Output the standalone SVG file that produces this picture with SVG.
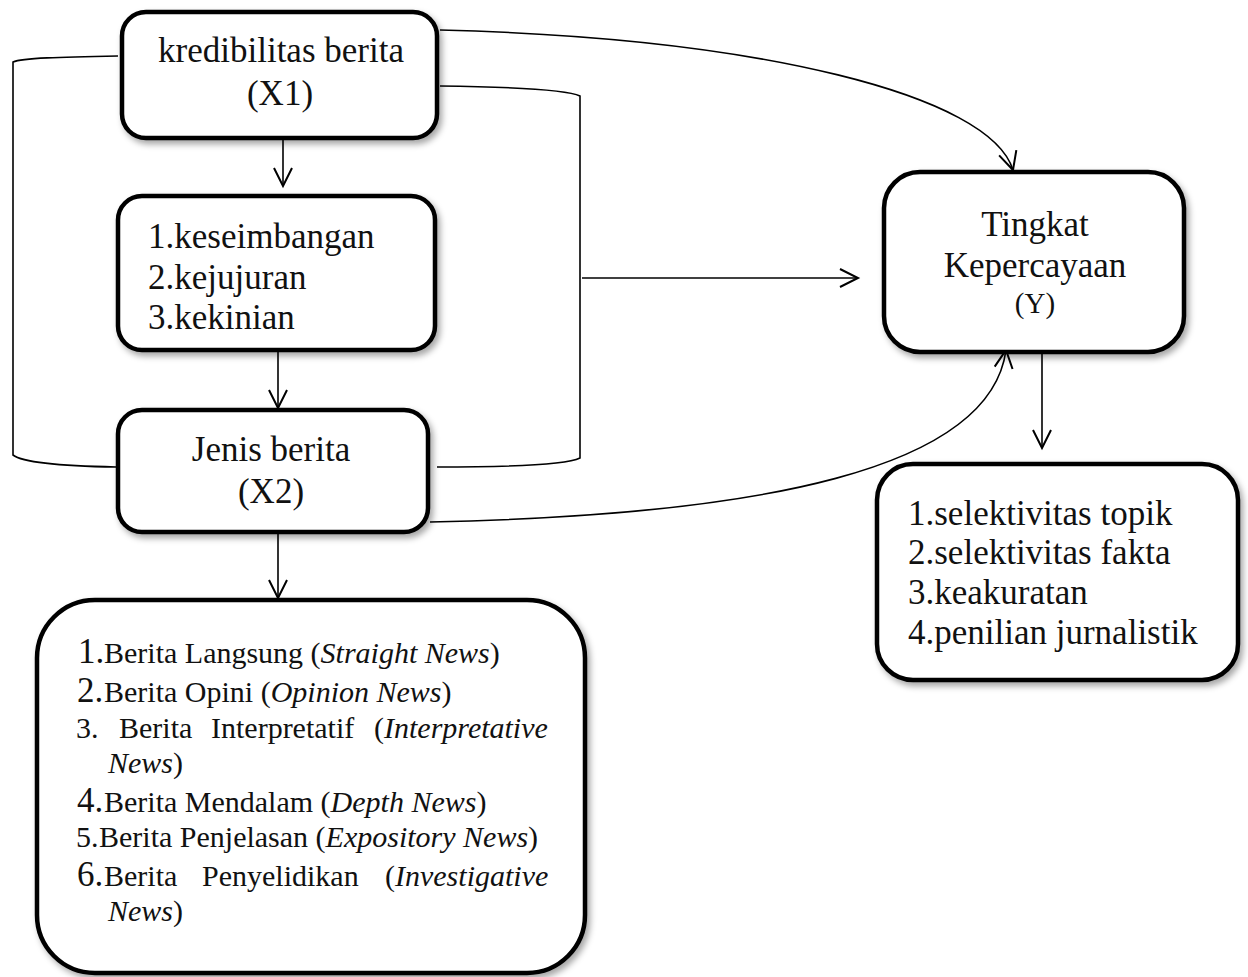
<svg xmlns="http://www.w3.org/2000/svg" width="1248" height="977" viewBox="0 0 1248 977">
<defs>
<filter id="sh" x="-10%" y="-10%" width="125%" height="125%">
<feDropShadow dx="3" dy="4" stdDeviation="3" flood-color="#000" flood-opacity="0.35"/>
</filter>
<marker id="arr" markerUnits="userSpaceOnUse" markerWidth="24" markerHeight="24" refX="19" refY="10" orient="auto" viewBox="0 0 24 20">
<path d="M1,1 L19,10 L1,19" fill="none" stroke="#000" stroke-width="2"/>
</marker>
<style>
.box{fill:#fff;stroke:#000;stroke-width:4.5;filter:url(#sh)}
.t{font-family:"Liberation Serif","Times New Roman",serif;font-size:35px;fill:#111}
.s{font-family:"Liberation Serif","Times New Roman",serif;font-size:30px;fill:#111}
.c{text-anchor:middle}
.i{font-style:italic}
.big{font-size:35px}
.ln{fill:none;stroke:#000;stroke-width:1.6}
</style>
</defs>
<rect width="1248" height="977" fill="#fff"/>
<g id="connectors">
<path class="ln" d="M118,56 C60,57 22,58 13,62 L13,455 C22,462 60,466 116,467"/>
<path class="ln" d="M440,86 C520,87 568,90 580,96 L580,458 C568,464 520,467 437,467"/>
<path class="ln" d="M582,278 L858,278" marker-end="url(#arr)"/>
<path class="ln" d="M440,30 C760,38 990,95 1013,170" marker-end="url(#arr)"/>
<path class="ln" d="M430,522 C760,515 990,470 1006,350" marker-end="url(#arr)"/>
<path class="ln" d="M283,140 L283,186" marker-end="url(#arr)"/>
<path class="ln" d="M278,352 L278,408" marker-end="url(#arr)"/>
<path class="ln" d="M278,534 L278,598" marker-end="url(#arr)"/>
<path class="ln" d="M1042,354 L1042,448" marker-end="url(#arr)"/>
</g>
<g id="x1">
<rect class="box" x="122" y="12" width="315" height="126" rx="24"/>
<text class="t c" x="281" y="62">kredibilitas berita</text>
<text class="t c" x="280" y="105">(X1)</text>
</g>
<g id="x1-indikator">
<rect class="box" x="118" y="196" width="317" height="154" rx="24"/>
<text class="t" x="148" y="248">1.keseimbangan</text>
<text class="t" x="148" y="289">2.kejujuran</text>
<text class="t" x="148" y="329">3.kekinian</text>
</g>
<g id="x2">
<rect class="box" x="118" y="410" width="310" height="122" rx="24"/>
<text class="t c" x="271" y="461">Jenis berita</text>
<text class="t c" x="271" y="503">(X2)</text>
</g>
<g id="x2-indikator">
<rect class="box" x="37" y="600" width="548" height="373" rx="58"/>
<text class="s" y="663"><tspan class="big" x="78">1.</tspan><tspan x="104">Berita Langsung (</tspan><tspan class="i">Straight News</tspan>)</text>
<text class="s" y="702"><tspan class="big" x="77">2.</tspan><tspan x="104">Berita Opini (</tspan><tspan class="i">Opinion News</tspan>)</text>
<text class="s" y="738"><tspan x="76">3.</tspan><tspan x="119">Berita</tspan><tspan x="211">Interpretatif</tspan><tspan x="374">(</tspan><tspan class="i">Interpretative</tspan></text>
<text class="s" y="773"><tspan class="i" x="108">News</tspan>)</text>
<text class="s" y="812"><tspan class="big" x="77">4.</tspan><tspan x="104">Berita Mendalam (</tspan><tspan class="i">Depth News</tspan>)</text>
<text class="s" y="847"><tspan x="76">5.</tspan><tspan x="99">Berita Penjelasan (</tspan><tspan class="i">Expository News</tspan>)</text>
<text class="s" y="886"><tspan class="big" x="77">6.</tspan><tspan x="104">Berita</tspan><tspan x="202">Penyelidikan</tspan><tspan x="385">(</tspan><tspan class="i">Investigative</tspan></text>
<text class="s" y="921"><tspan class="i" x="108">News</tspan>)</text>
</g>
<g id="y">
<rect class="box" x="884" y="172" width="300" height="180" rx="36"/>
<text class="t c" x="1035" y="236">Tingkat</text>
<text class="t c" x="1035" y="277">Kepercayaan</text>
<text class="s c" x="1035" y="313" style="font-size:29px">(Y)</text>
</g>
<g id="y-indikator">
<rect class="box" x="877" y="464" width="361" height="216" rx="36"/>
<text class="t" x="908" y="525">1.selektivitas topik</text>
<text class="t" x="908" y="564">2.selektivitas fakta</text>
<text class="t" x="908" y="604">3.keakuratan</text>
<text class="t" x="908" y="644">4.penilian jurnalistik</text>
</g>
</svg>
